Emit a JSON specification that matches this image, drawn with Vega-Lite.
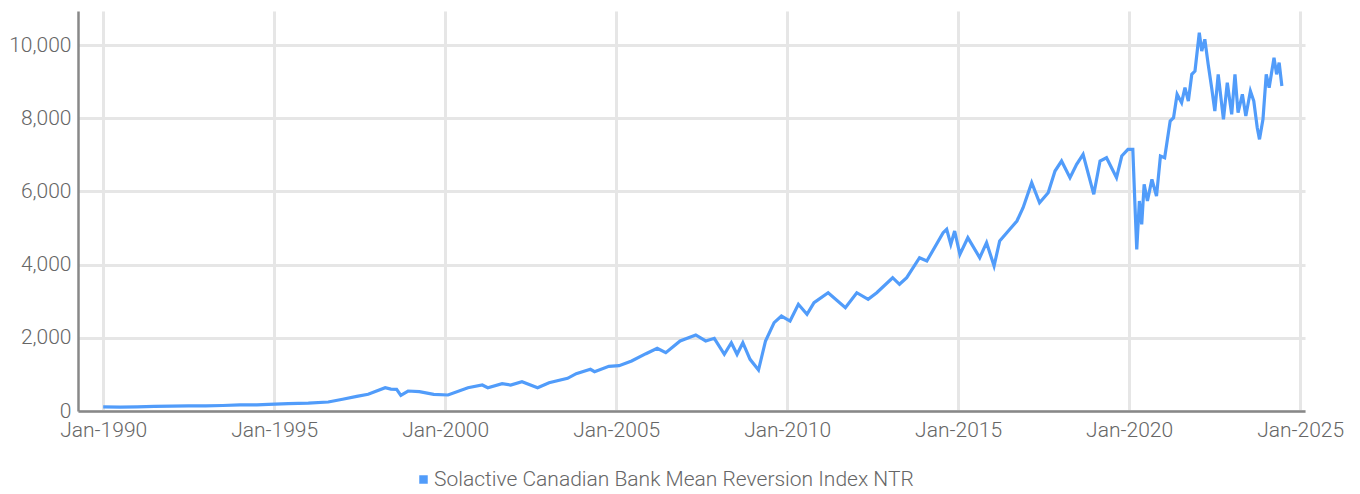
{
  "$schema": "https://vega.github.io/schema/vega-lite/v6.json",
  "autosize": {"type": "none"},
  "padding": {"left": 78, "top": 11, "right": 55, "bottom": 83},
  "width": 1227,
  "height": 400,
  "background": "white",
  "config": {
    "font": "Roboto",
    "view": {"stroke": null}
  },
  "data": {
    "values": [
      {"date": "1990-01-01", "value": 110},
      {"date": "1990-07-01", "value": 105},
      {"date": "1991-01-01", "value": 115},
      {"date": "1991-07-01", "value": 125},
      {"date": "1992-01-01", "value": 135},
      {"date": "1992-07-01", "value": 140},
      {"date": "1993-01-01", "value": 140},
      {"date": "1993-07-01", "value": 150},
      {"date": "1994-01-01", "value": 165},
      {"date": "1994-07-01", "value": 165},
      {"date": "1994-11-01", "value": 183},
      {"date": "1995-06-01", "value": 200},
      {"date": "1996-01-01", "value": 215},
      {"date": "1996-08-01", "value": 246},
      {"date": "1997-01-01", "value": 320},
      {"date": "1997-06-01", "value": 400},
      {"date": "1997-10-01", "value": 456},
      {"date": "1998-04-01", "value": 637},
      {"date": "1998-06-01", "value": 600},
      {"date": "1998-08-01", "value": 592},
      {"date": "1998-09-15", "value": 429},
      {"date": "1998-12-01", "value": 546},
      {"date": "1999-04-01", "value": 528},
      {"date": "1999-09-01", "value": 456},
      {"date": "2000-02-01", "value": 437},
      {"date": "2000-09-01", "value": 637},
      {"date": "2001-02-01", "value": 710},
      {"date": "2001-04-01", "value": 637},
      {"date": "2001-09-01", "value": 746},
      {"date": "2001-12-01", "value": 710},
      {"date": "2002-04-01", "value": 801},
      {"date": "2002-09-15", "value": 637},
      {"date": "2003-01-15", "value": 774},
      {"date": "2003-08-01", "value": 893},
      {"date": "2003-11-01", "value": 1019},
      {"date": "2004-04-01", "value": 1139},
      {"date": "2004-05-15", "value": 1074},
      {"date": "2004-10-15", "value": 1221},
      {"date": "2005-02-01", "value": 1238},
      {"date": "2005-06-15", "value": 1366},
      {"date": "2005-11-15", "value": 1566},
      {"date": "2006-03-15", "value": 1713},
      {"date": "2006-06-15", "value": 1593},
      {"date": "2006-11-15", "value": 1913},
      {"date": "2007-05-01", "value": 2077},
      {"date": "2007-08-15", "value": 1913},
      {"date": "2007-11-15", "value": 1986},
      {"date": "2008-03-01", "value": 1549},
      {"date": "2008-05-15", "value": 1866},
      {"date": "2008-07-15", "value": 1549},
      {"date": "2008-09-15", "value": 1866},
      {"date": "2008-12-01", "value": 1412},
      {"date": "2009-03-01", "value": 1120},
      {"date": "2009-05-15", "value": 1913},
      {"date": "2009-08-15", "value": 2413},
      {"date": "2009-11-01", "value": 2596},
      {"date": "2010-02-01", "value": 2459},
      {"date": "2010-05-01", "value": 2915},
      {"date": "2010-08-01", "value": 2642},
      {"date": "2010-10-15", "value": 2959},
      {"date": "2011-03-15", "value": 3232},
      {"date": "2011-09-15", "value": 2822},
      {"date": "2012-01-15", "value": 3232},
      {"date": "2012-05-15", "value": 3052},
      {"date": "2012-08-15", "value": 3232},
      {"date": "2013-02-01", "value": 3642},
      {"date": "2013-04-15", "value": 3462},
      {"date": "2013-07-01", "value": 3642},
      {"date": "2013-11-15", "value": 4189},
      {"date": "2014-02-01", "value": 4098},
      {"date": "2014-07-25", "value": 4872},
      {"date": "2014-09-01", "value": 4964},
      {"date": "2014-10-15", "value": 4554},
      {"date": "2014-11-25", "value": 4918},
      {"date": "2015-01-20", "value": 4281},
      {"date": "2015-04-15", "value": 4735},
      {"date": "2015-08-20", "value": 4189},
      {"date": "2015-11-01", "value": 4599},
      {"date": "2016-01-20", "value": 3962},
      {"date": "2016-03-20", "value": 4645},
      {"date": "2016-06-20", "value": 4918},
      {"date": "2016-09-20", "value": 5191},
      {"date": "2016-11-25", "value": 5555},
      {"date": "2017-02-25", "value": 6238},
      {"date": "2017-05-20", "value": 5691},
      {"date": "2017-08-20", "value": 5964},
      {"date": "2017-11-01", "value": 6557},
      {"date": "2018-01-10", "value": 6831},
      {"date": "2018-04-10", "value": 6374},
      {"date": "2018-06-20", "value": 6740},
      {"date": "2018-08-28", "value": 7014},
      {"date": "2018-12-20", "value": 5921},
      {"date": "2019-02-25", "value": 6831},
      {"date": "2019-05-05", "value": 6921},
      {"date": "2019-08-20", "value": 6374},
      {"date": "2019-10-15", "value": 6967},
      {"date": "2019-12-20", "value": 7150},
      {"date": "2020-02-10", "value": 7150},
      {"date": "2020-03-05", "value": 5555},
      {"date": "2020-03-23", "value": 4418},
      {"date": "2020-04-20", "value": 5738},
      {"date": "2020-05-15", "value": 5101},
      {"date": "2020-06-10", "value": 6194},
      {"date": "2020-07-15", "value": 5738},
      {"date": "2020-09-01", "value": 6331},
      {"date": "2020-10-20", "value": 5874},
      {"date": "2020-12-01", "value": 6967},
      {"date": "2021-01-15", "value": 6921},
      {"date": "2021-03-15", "value": 7924},
      {"date": "2021-04-20", "value": 8014},
      {"date": "2021-05-28", "value": 8653},
      {"date": "2021-07-15", "value": 8424},
      {"date": "2021-08-20", "value": 8834},
      {"date": "2021-09-25", "value": 8470},
      {"date": "2021-11-01", "value": 9199},
      {"date": "2021-12-05", "value": 9290},
      {"date": "2022-01-20", "value": 10336},
      {"date": "2022-02-15", "value": 9836},
      {"date": "2022-03-20", "value": 10156},
      {"date": "2022-04-25", "value": 9472},
      {"date": "2022-06-01", "value": 8834},
      {"date": "2022-07-05", "value": 8197},
      {"date": "2022-08-10", "value": 9199},
      {"date": "2022-10-05", "value": 7970},
      {"date": "2022-11-15", "value": 8970},
      {"date": "2023-01-01", "value": 8106},
      {"date": "2023-02-05", "value": 9199},
      {"date": "2023-03-10", "value": 8151},
      {"date": "2023-04-25", "value": 8653},
      {"date": "2023-06-01", "value": 8060},
      {"date": "2023-07-20", "value": 8743},
      {"date": "2023-08-25", "value": 8470},
      {"date": "2023-10-01", "value": 7741},
      {"date": "2023-10-25", "value": 7423},
      {"date": "2023-12-01", "value": 7970},
      {"date": "2024-01-05", "value": 9199},
      {"date": "2024-02-05", "value": 8834},
      {"date": "2024-03-28", "value": 9653},
      {"date": "2024-04-25", "value": 9199},
      {"date": "2024-05-22", "value": 9517},
      {"date": "2024-06-20", "value": 8880}
    ]
  },
  "mark": {"type": "line", "strokeWidth": 3.2, "interpolate": "linear"},
  "encoding": {
    "x": {
      "field": "date",
      "type": "temporal",
      "scale": {"domain": [{"year": 1989, "month": 4, "date": 7}, {"year": 2025, "month": 2, "date": 22}], "nice": false},
      "axis": {
        "title": null,
        "format": "%b-%Y",
        "values": [
          {"year": 1990, "month": 1, "date": 1},
          {"year": 1995, "month": 1, "date": 1},
          {"year": 2000, "month": 1, "date": 1},
          {"year": 2005, "month": 1, "date": 1},
          {"year": 2010, "month": 1, "date": 1},
          {"year": 2015, "month": 1, "date": 1},
          {"year": 2020, "month": 1, "date": 1},
          {"year": 2025, "month": 1, "date": 1}
        ],
        "grid": true,
        "gridColor": "#e6e6e6",
        "gridWidth": 3,
        "ticks": false,
        "domainColor": "#888888",
        "domainWidth": 2.5,
        "labelColor": "#666666",
        "labelFontSize": 21,
        "labelFontWeight": 300,
        "labelPadding": 8,
        "labelFlush": false
      }
    },
    "y": {
      "field": "value",
      "type": "quantitative",
      "scale": {"domain": [0, 10930], "nice": false},
      "axis": {
        "title": null,
        "format": ",d",
        "values": [0, 2000, 4000, 6000, 8000, 10000],
        "grid": true,
        "gridColor": "#e6e6e6",
        "gridWidth": 3,
        "ticks": false,
        "domainColor": "#888888",
        "domainWidth": 2.5,
        "labelColor": "#666666",
        "labelFontSize": 21,
        "labelFontWeight": 300,
        "labelPadding": 7
      }
    },
    "color": {
      "datum": "Solactive Canadian Bank Mean Reversion Index NTR",
      "type": "nominal",
      "scale": {"range": ["#519cfa"]},
      "legend": {
        "title": null,
        "orient": "none",
        "legendX": 335,
        "legendY": 458,
        "symbolType": "square",
        "symbolSize": 72,
        "symbolFillColor": "#519cfa",
        "symbolStrokeColor": "#519cfa",
        "symbolStrokeWidth": 0,
        "labelFontSize": 21,
        "labelFontWeight": 300,
        "labelColor": "#666666",
        "labelLimit": 0,
        "labelOffset": 0
      }
    }
  }
}
